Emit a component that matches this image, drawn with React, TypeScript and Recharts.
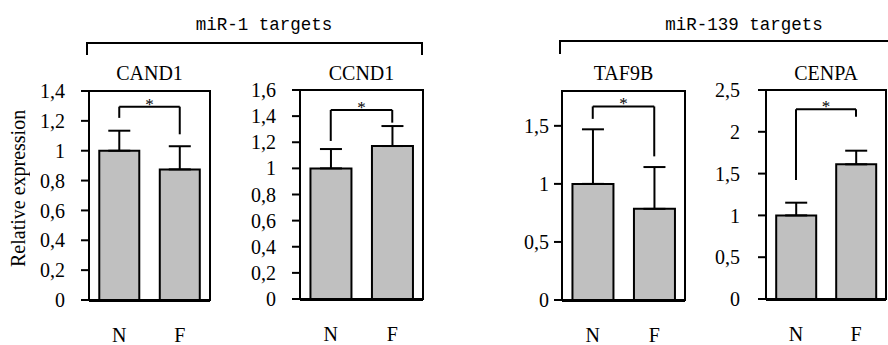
import React from 'react';
import { BarChart, Bar, XAxis, YAxis, ErrorBar, ReferenceLine, ReferenceArea } from 'recharts';

const GROUPS = ['N', 'F'];
const GENES = ['CAND1', 'CCND1', 'TAF9B', 'CENPA'];
const MEANS = [
  [1.0, 0.875],
  [1.0, 1.171],
  [1.0, 0.785],
  [1.0, 1.611],
];
const ERRORS = [
  [0.134, 0.155],
  [0.148, 0.153],
  [0.47, 0.36],
  [0.152, 0.163],
];
const Y_MAX = [1.4, 1.6, 1.8, 2.5];
const Y_TICKS = [
  [0, 0.2, 0.4, 0.6, 0.8, 1, 1.2, 1.4],
  [0, 0.2, 0.4, 0.6, 0.8, 1, 1.2, 1.4, 1.6],
  [0, 0.5, 1, 1.5],
  [0, 0.5, 1, 1.5, 2, 2.5],
];
// significance bracket: [N leg bottom, bracket top, F leg bottom]
const BRACKETS = [
  [1.22, 1.295, 1.11],
  [1.21, 1.447, 1.35],
  [1.56, 1.667, 1.237],
  [1.423, 2.269, 2.18],
];
const GROUP_TITLES = ['miR-1 targets', 'miR-139 targets'];
const Y_LABEL = 'Relative expression';

// plot boxes in page pixels
const PLOT_LEFT = [89, 300, 562, 766];
const PLOT_RIGHT = [210, 423, 685, 886];
const PLOT_TOP = [91, 90, 91, 90];
const PLOT_BOTTOM = [300, 299, 300, 299];
const TICK_GAP = [16, 16, 5, 18];

const W = 888;
const H = 345;
const AXIS_W = 80;
const SERIF = "'Liberation Serif', 'DejaVu Serif', serif";
const MONO = "'Liberation Mono', 'Courier New', monospace";

const fmt = (v: number) => String(v).replace('.', ',');

const Panel = ({ idx }: { idx: number }) => {
  const data = GROUPS.map((g, i) => ({
    group: g,
    mean: MEANS[idx][i],
    err: [0, ERRORS[idx][i]],
  }));
  const [b0, b1, b2] = BRACKETS[idx];
  const plotW = PLOT_RIGHT[idx] - PLOT_LEFT[idx];
  const line = { stroke: '#000', strokeWidth: 2 };

  return (
    <div style={{ position: 'absolute', left: PLOT_LEFT[idx] - AXIS_W, top: 0, fontFamily: SERIF }}>
      <BarChart
        width={plotW + AXIS_W + 4}
        height={H}
        data={data}
        barCategoryGap="17%"
        margin={{ top: PLOT_TOP[idx], right: 4, bottom: H - PLOT_BOTTOM[idx] - 2, left: 0 }}
        style={{ fontFamily: SERIF }}
      >
        <XAxis
          dataKey="group"
          height={1}
          axisLine={false}
          tickLine={false}
          tickSize={0}
          tickMargin={28}
          tick={{ fill: '#000', fontSize: 20, fontFamily: SERIF }}
        />
        <XAxis
          xAxisId="edge"
          type="number"
          domain={[0, 2]}
          ticks={[0, 1, 2]}
          height={1}
          tick={false}
          tickSize={6}
          axisLine={line}
          tickLine={line}
        />
        <YAxis
          width={AXIS_W}
          domain={[0, Y_MAX[idx]]}
          ticks={Y_TICKS[idx]}
          interval={0}
          tickFormatter={fmt}
          tickSize={8}
          tickMargin={TICK_GAP[idx]}
          axisLine={line}
          tickLine={line}
          tick={{ fill: '#000', fontSize: 20, fontFamily: SERIF }}
        />
        <ReferenceArea y1={0} y2={Y_MAX[idx]} fill="none" stroke="#000" strokeWidth={2} ifOverflow="visible" />
        <Bar dataKey="mean" fill="#c0c0c0" stroke="#000" strokeWidth={2} isAnimationActive={false}>
          <ErrorBar dataKey="err" direction="y" width={11} stroke="#000" strokeWidth={2} />
        </Bar>
        <ReferenceLine segment={[{ x: 'N', y: b0 }, { x: 'N', y: b1 }]} {...line} ifOverflow="visible" />
        <ReferenceLine
          segment={[{ x: 'N', y: b1 }, { x: 'F', y: b1 }]}
          {...line}
          ifOverflow="visible"
          label={{ value: '*', position: 'top', offset: -3, fill: '#000', fontSize: 17, fontFamily: SERIF }}
        />
        <ReferenceLine segment={[{ x: 'F', y: b1 }, { x: 'F', y: b2 }]} {...line} ifOverflow="visible" />
      </BarChart>
    </div>
  );
};

export default function App() {
  return (
    <div
      style={{
        position: 'absolute',
        left: 0,
        top: 0,
        width: W,
        height: H,
        overflow: 'hidden',
        background: '#fff',
        fontFamily: SERIF,
        color: '#000',
      }}
    >
      {/* group headers */}
      <div style={{ position: 'absolute', left: 164, top: 16, width: 200, textAlign: 'center', fontFamily: MONO, fontSize: 17.5, lineHeight: '18px' }}>
        {GROUP_TITLES[0]}
      </div>
      <div style={{ position: 'absolute', left: 644, top: 16, width: 200, textAlign: 'center', fontFamily: MONO, fontSize: 17.5, lineHeight: '18px' }}>
        {GROUP_TITLES[1]}
      </div>
      <div style={{ position: 'absolute', left: 86, top: 42, width: 333, height: 11, borderTop: '2px solid #000', borderLeft: '2px solid #000', borderRight: '2px solid #000' }} />
      <div style={{ position: 'absolute', left: 559, top: 40, width: 340, height: 12, borderTop: '2px solid #000', borderLeft: '2px solid #000' }} />

      {/* gene titles */}
      {GENES.map((g, i) => (
        <div
          key={g}
          style={{
            position: 'absolute',
            left: (PLOT_LEFT[i] + PLOT_RIGHT[i]) / 2 - 60,
            top: 63,
            width: 120,
            textAlign: 'center',
            fontSize: 20,
            lineHeight: '20px',
          }}
        >
          {g}
        </div>
      ))}

      {/* y axis title */}
      <div
        style={{
          position: 'absolute',
          left: 8,
          top: 107,
          height: 163,
          writingMode: 'vertical-rl',
          transform: 'rotate(180deg)',
          textAlign: 'center',
          fontSize: 20,
          lineHeight: '20px',
          whiteSpace: 'nowrap',
        }}
      >
        {Y_LABEL}
      </div>

      {GENES.map((g, i) => (
        <Panel key={g} idx={i} />
      ))}
    </div>
  );
}
